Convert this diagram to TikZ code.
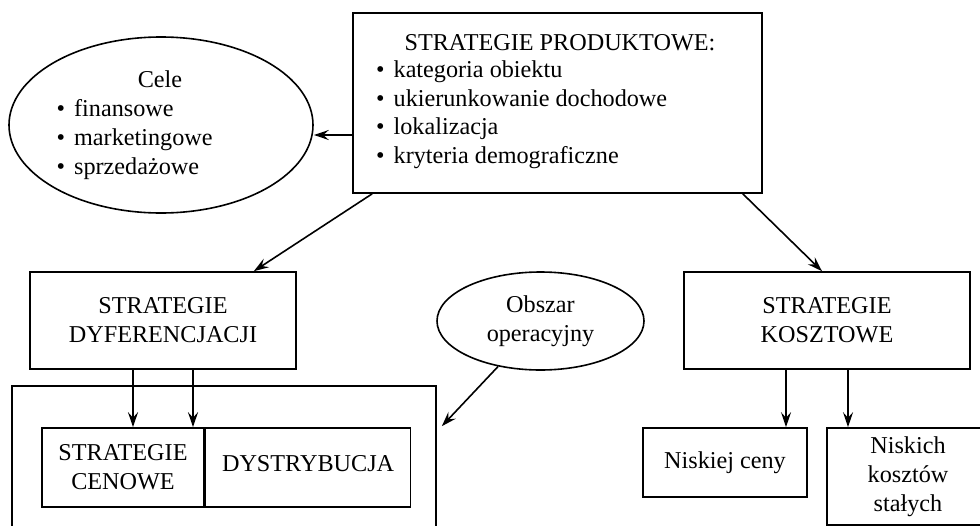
\documentclass[tikz,border=0pt]{standalone}
\usepackage{fontspec}
\setmainfont{Liberation Serif}
\usetikzlibrary{shapes.geometric,arrows.meta}
\newcommand{\pkt}{\textbullet\hspace{9pt}}

\begin{document}
\begin{tikzpicture}[x=1pt,y=-1pt,
  every node/.style={font=\fontsize{24.2}{29}\selectfont},
  box/.style={draw,line width=1.6pt,inner sep=0pt,align=center},
  oval/.style={draw,ellipse,line width=1.6pt,inner sep=0pt},
  txt/.style={inner sep=0pt,anchor=base west},
  arr/.style={-{Stealth[length=15pt,width=10pt,inset=5.5pt]},line width=1.6pt}]
\useasboundingbox (0,0) rectangle (980,525);
\clip (0,0) rectangle (980,525);
\node[box,minimum width=409pt,minimum height=180pt] (prod) at (557.5,103) {};
\node[inner sep=0pt,anchor=base] (prodt) at (560,50) {STRATEGIE PRODUKTOWE:};
\foreach \t [count=\i] in {kategoria obiektu,ukierunkowanie dochodowe,lokalizacja,kryteria demograficzne}
  \node[txt] (prod\i) at (376,49+28.5*\i) {\pkt\t};
\node[oval,minimum width=304pt,minimum height=176pt] (cele) at (161,125) {};
\node[inner sep=0pt,anchor=base] (celet) at (160,87.5) {Cele};
\foreach \t [count=\i] in {finansowe,marketingowe,sprzedażowe}
  \node[txt] (cele\i) at (56.5,87.5+29*\i) {\pkt\t};
\node[box,minimum width=266pt,minimum height=97pt] (dyf) at (163,320.5) {STRATEGIE\\DYFERENCJACJI};
\node[box,minimum width=286pt,minimum height=97pt] (kosz) at (827,320.5) {STRATEGIE\\KOSZTOWE};
\node[oval,minimum width=207pt,minimum height=98pt,align=center] (obs) at (540.5,321) {Obszar\\operacyjny};
\node[box,minimum width=424pt,minimum height=154pt] (op) at (224,463) {};
\node[box,minimum width=162pt,minimum height=79pt] (cen) at (123,467.5) {STRATEGIE\\CENOWE};
\node[box,minimum width=205pt,minimum height=79pt,text height=17pt,text depth=10pt,anchor=west] (dys) at (cen.east) {DYSTRYBUCJA};
\node[box,minimum width=164pt,minimum height=69pt] (nisk) at (725,462.5) {Niskiej ceny};
\node[box,minimum width=162pt,minimum height=97pt] (nkos) at (908,476.5) {Niskich\\kosztów\\stałych};

\draw[arr] ([yshift=-32pt]prod.west) -- ([yshift=-10pt]cele.east);
\draw[arr] ([xshift=20pt]prod.south west) -- ([xshift=-43pt]dyf.north east);
\draw[arr] ([xshift=-20pt]prod.south east) -- ([xshift=-5pt]kosz.north);
\foreach \dx in {-30,30}{
  \coordinate (d) at ([xshift=\dx pt]dyf.south);
  \draw[arr] (d) -- (d |- cen.north);
}
\coordinate (k1) at ([xshift=-41pt]kosz.south);
\coordinate (k2) at ([xshift=21pt]kosz.south);
\draw[arr] (k1) -- (k1 |- nisk.north);
\draw[arr] (k2) -- (k2 |- nkos.north);
\draw[arr] (obs.227) -- ([xshift=5pt,yshift=-41pt]op.north east);
\end{tikzpicture}
\end{document}
